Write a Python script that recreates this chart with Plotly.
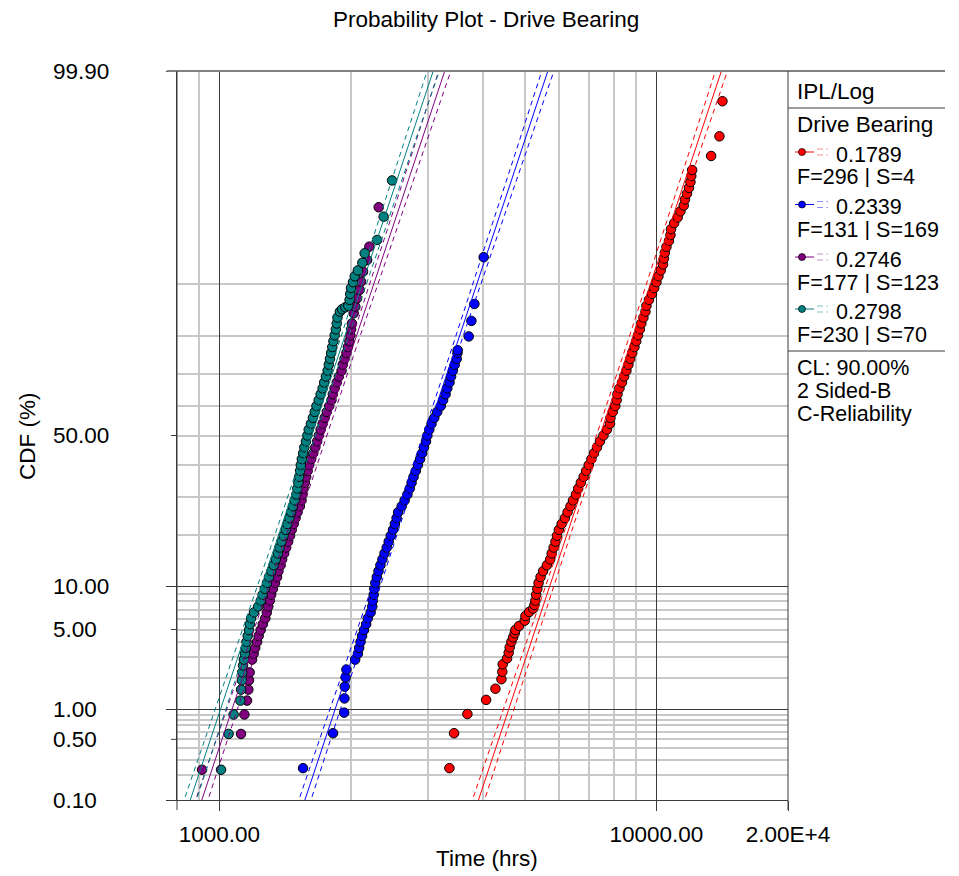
import math
import plotly.graph_objects as go
from statistics import NormalDist

ND = NormalDist()


def z(p):
    return ND.inv_cdf(p / 100.0)


# ---------------- data ----------------
stress = ["0.1789", "0.2339", "0.2746", "0.2798"]
fails = [296, 131, 177, 230]
susp = [4, 169, 123, 70]
colors = ["#FF0000", "#0000FF", "#800080", "#008080"]
light_colors = ["#FF8C8C", "#8C8CFF", "#C88CC8", "#7FC4C4"]

red_time = [3360, 3443, 3694, 4077, 4282, 4420, 4440, 4450, 4554, 4592, 4617, 4658, 4700, 4740, 4757,
            4851, 4996, 5015, 5114, 5223, 5259,
            5285, 5307, 5340, 5374, 5431, 5504, 5614, 5713, 5758, 5819, 5875, 5921, 5981, 6070, 6176,
            6262, 6358, 6442, 6544, 6623, 6714, 6815, 6905, 7000, 7100, 7198, 7313, 7426, 7565, 7706,
            7829, 7850, 7945, 8050, 8110, 8145, 8231, 8340, 8437, 8538, 8628, 8710, 8803, 8906, 8990,
            9076, 9163, 9236, 9338, 9437, 9487, 9613, 9766, 9885, 10000, 10106, 10229, 10354, 10403,
            10453, 10541, 10681, 10767, 10799, 10978, 11187, 11347, 11547, 11621, 11745, 11870, 11963,
            12014, 12071, 13340, 13937, 14159]
red_cdf = [0.24, 0.58, 0.91, 1.25, 1.59, 1.94, 2.26, 2.62, 2.94, 3.28, 3.63, 4.02, 4.35, 4.68, 4.96,
           5.32, 5.82, 6.30, 6.73, 7.11, 7.54,
           8.08, 8.85, 9.68, 10.57, 11.51, 12.51, 13.57, 14.69, 15.87, 17.11, 18.41, 19.77, 21.19, 22.66,
           24.20, 25.79, 27.43, 29.12, 30.85, 32.64, 34.46, 36.32, 38.21, 40.13, 42.07, 44.04, 46.02,
           48.01, 50.00, 51.99, 53.98, 55.96, 57.93, 59.87, 61.79, 63.68, 65.54, 67.36, 69.15, 70.88,
           72.58, 74.22, 75.80, 77.34, 78.81, 80.23, 81.59, 82.89, 84.13, 85.31, 86.43, 87.49, 88.49,
           89.44, 90.32, 91.15, 91.92, 92.65, 93.32, 93.94, 94.52, 95.05, 95.54, 95.99, 96.41, 96.78,
           97.13, 97.44, 97.73, 97.98, 98.21, 98.42, 98.61, 98.78, 99.11, 99.44, 99.77]

blue_time = [1554, 1820, 1930, 1933, 1936, 1945, 1953,
             2045, 2075, 2089, 2104, 2121, 2142, 2167, 2186, 2219, 2238, 2244, 2255, 2262, 2274, 2292,
             2313, 2336, 2361, 2387, 2415, 2440, 2467, 2496, 2521, 2544, 2565, 2613, 2654, 2693, 2726,
             2753, 2782, 2815, 2846, 2879, 2911, 2939, 2970, 2992, 3022, 3058, 3103, 3151, 3211, 3250,
             3293, 3323, 3362, 3390, 3421, 3455, 3492, 3506, 3510, 3720, 3773, 3833, 4025]
blue_cdf = [0.24, 0.58, 0.94, 1.29, 1.66, 2.01, 2.36,
            2.87, 3.22, 3.59, 4.01, 4.46, 4.95, 5.48, 6.06, 6.68, 7.35, 8.08, 8.85, 9.68, 10.57, 11.51,
            12.51, 13.57, 14.69, 15.87, 17.11, 18.41, 19.77, 21.19, 22.66, 24.20, 25.79, 27.43, 29.12,
            30.85, 32.64, 34.46, 36.32, 38.21, 40.13, 42.07, 44.04, 46.02, 48.01, 50.00, 51.99, 53.98,
            55.96, 57.93, 59.87, 61.79, 63.68, 65.54, 67.36, 69.15, 70.88, 72.58, 74.22, 75.80, 76.52,
            79.95, 83.44, 86.76, 93.47]

purple_time = [913, 1121, 1141, 1157, 1165, 1169, 1173,
               1188, 1198, 1208, 1220, 1230, 1243, 1257, 1274, 1284, 1294, 1304, 1314, 1326, 1341, 1355,
               1365, 1381, 1392, 1407, 1422, 1437, 1451, 1464, 1479, 1494, 1510, 1528, 1542, 1549, 1559,
               1569, 1580, 1592, 1605, 1622, 1640, 1658, 1674, 1689, 1705, 1723, 1742, 1761, 1784, 1805,
               1818, 1835, 1856, 1877, 1904, 1916, 1934, 1953, 1968, 1984, 1994, 2002, 2010,
               2029, 2047, 2066, 2094, 2110, 2132, 2178, 2204, 2315]
purple_cdf = [0.23, 0.57, 0.90, 1.23, 1.56, 1.90, 2.23,
              2.87, 3.22, 3.59, 4.01, 4.46, 4.95, 5.48, 6.06, 6.68, 7.35, 8.08, 8.85, 9.68, 10.57, 11.51,
              12.51, 13.57, 14.69, 15.87, 17.11, 18.41, 19.77, 21.19, 22.66, 24.20, 25.79, 27.43, 29.12,
              30.85, 32.64, 34.46, 36.32, 38.21, 40.13, 42.07, 44.04, 46.02, 48.01, 50.00, 51.99, 53.98,
              55.96, 57.93, 59.87, 61.79, 63.68, 65.54, 67.36, 69.15, 70.88, 72.58, 74.22, 75.80, 77.34,
              78.81, 80.23, 81.59, 82.89,
              84.99, 86.26, 87.76, 89.14, 90.39, 91.76, 93.16, 94.53, 97.35]

teal_time = [1009, 1050, 1078, 1117, 1121, 1126, 1128, 1133,
             1138, 1144, 1149, 1154, 1161, 1169, 1174, 1182, 1200, 1227, 1244, 1256, 1270, 1285, 1299,
             1315, 1331, 1346, 1361, 1373, 1387, 1402, 1418, 1431, 1446, 1460, 1473, 1487, 1500, 1508,
             1516, 1523, 1530, 1536, 1544, 1555, 1565, 1578, 1590, 1601, 1620, 1637, 1653, 1668, 1688,
             1705, 1723, 1737, 1753, 1769, 1780, 1791, 1802, 1813, 1824, 1836, 1847, 1856, 1863, 1887,
             1909, 1942, 1973, 1986, 1993, 2001, 2022, 2041, 2074, 2124, 2150, 2296, 2376, 2484]
teal_cdf = [0.23, 0.57, 0.90, 1.23, 1.56, 1.90, 2.23, 2.56,
            2.87, 3.22, 3.59, 4.01, 4.46, 4.95, 5.48, 6.06, 6.68, 7.35, 8.08, 8.85, 9.68, 10.57, 11.51,
            12.51, 13.57, 14.69, 15.87, 17.11, 18.41, 19.77, 21.19, 22.66, 24.20, 25.79, 27.43, 29.12,
            30.85, 32.64, 34.46, 36.32, 38.21, 40.13, 42.07, 44.04, 46.02, 48.01, 50.00, 51.99, 53.98,
            55.96, 57.93, 59.87, 61.79, 63.68, 65.54, 67.36, 69.15, 70.88, 72.58, 74.22, 75.80, 77.34,
            78.81, 80.23, 81.59, 82.89, 84.13, 85.31, 85.78, 86.15, 86.43, 87.49, 88.49, 89.44, 90.32,
            91.15, 91.92, 92.85, 93.88, 95.13, 96.82, 98.47]

# fitted IPL-lognormal lines: median life per stress level, shared log-std
median_life = [7426, 2976, 1729, 1627]
sigma_ln = 0.2071
sd_mu = [0.0106, 0.0106, 0.0110, 0.0110]
sd_sigma = 0.0052
K90 = 1.645  # 90% two-sided

x_major = [1000, 10000, 20000]
x_major_text = ["1000.00", "10000.00", "2.00E+4"]
x_minor = [900, 2000, 3000, 4000, 5000, 6000, 7000, 8000, 9000]
y_major = [0.1, 1, 10, 99.9]
y_minor = [0.2, 0.3, 0.4, 0.5, 0.6, 0.7, 0.8, 0.9, 2, 3, 4, 5, 6, 7, 8, 9,
           20, 30, 40, 50, 60, 70, 80, 90]
y_labels = [99.9, 50, 10, 5, 1, 0.5, 0.1]
y_short_ticks = [0.5, 5, 50]

series = [(red_time, red_cdf), (blue_time, blue_cdf), (purple_time, purple_cdf), (teal_time, teal_cdf)]

# ---------------- geometry ----------------
W, H = 959, 876
ML, MR, MT, MB = 177, 171, 71, 76
PW = W - ML - MR
PH = H - MT - MB


def px(xp):
    return (xp - ML) / PW


def py(yp):
    return (H - MB - yp) / PH


FONT = "Liberation Sans, Arial, sans-serif"
FS = 22.5
LFS = 21.5

fig = go.Figure()

# data points
for (tt, cc), col in zip(series, colors):
    fig.add_trace(go.Scatter(x=tt, y=[z(c) for c in cc], mode="markers",
                             marker=dict(size=9.5, color=col, line=dict(color="black", width=1)),
                             hoverinfo="x+y", showlegend=False))

# fitted lines and confidence bounds
zz = [z(0.04) + i * (z(99.96) - z(0.04)) / 80 for i in range(81)]
for i, col in enumerate(colors):
    mu = math.log(median_life[i])
    xs = [math.exp(mu + sigma_ln * q) for q in zz]
    half = [K90 * math.sqrt(sd_mu[i] ** 2 + (q * sd_sigma) ** 2) for q in zz]
    lo = [math.exp(mu + sigma_ln * q - h) for q, h in zip(zz, half)]
    hi = [math.exp(mu + sigma_ln * q + h) for q, h in zip(zz, half)]
    fig.add_trace(go.Scatter(x=xs, y=zz, mode="lines", line=dict(color=col, width=1),
                             hoverinfo="skip", showlegend=False))
    for b in (lo, hi):
        fig.add_trace(go.Scatter(x=b, y=zz, mode="lines",
                                 line=dict(color=col, width=1, dash="5px,4px"),
                                 hoverinfo="skip", showlegend=False))

DARK = "#3a3a3a"
GRID = "#c8c8c8"

fig.update_xaxes(type="log", range=[math.log10(800), math.log10(20000)],
                 tickmode="array", tickvals=x_major, ticktext=x_major_text,
                 ticks="outside", ticklen=10, tickwidth=1, tickcolor=DARK,
                 ticklabelstandoff=4,
                 showgrid=True, gridcolor=DARK, gridwidth=1,
                 minor=dict(tickmode="array", tickvals=x_minor, showgrid=True,
                            gridcolor=GRID, gridwidth=1.5, ticks=""),
                 showline=True, linecolor=DARK, linewidth=1, zeroline=False,
                 tickfont=dict(family=FONT, size=FS, color="black"))

fig.update_yaxes(range=[z(0.1), z(99.9)], tickmode="array",
                 tickvals=[z(v) for v in y_major], ticktext=[""] * len(y_major),
                 ticks="outside", ticklen=10, tickwidth=1, tickcolor=DARK,
                 showgrid=True, gridcolor=DARK, gridwidth=1,
                 minor=dict(tickmode="array", tickvals=[z(v) for v in y_minor], showgrid=True,
                            gridcolor=GRID, gridwidth=1.5, ticks=""),
                 showline=True, linecolor=DARK, linewidth=1, zeroline=False,
                 showticklabels=False)

shapes = []
# frame pieces and legend panel
shapes.append(dict(type="line", xref="paper", yref="paper", x0=px(167), x1=px(945), y0=1, y1=1,
                   line=dict(color="#808080", width=2)))
shapes.append(dict(type="line", xref="paper", yref="paper", x0=1, x1=1, y0=py(810), y1=1,
                   line=dict(color=DARK, width=1)))
shapes.append(dict(type="line", xref="paper", yref="paper", x0=0, x1=0, y0=py(810), y1=1,
                   line=dict(color=DARK, width=1)))
shapes.append(dict(type="line", xref="paper", yref="paper", x0=1, x1=px(945), y0=py(108), y1=py(108),
                   line=dict(color=DARK, width=1)))
shapes.append(dict(type="line", xref="paper", yref="paper", x0=1, x1=px(945), y0=py(351), y1=py(351),
                   line=dict(color=DARK, width=1)))
for v in y_short_ticks:
    shapes.append(dict(type="line", xref="paper", yref="y", x0=px(171), x1=0, y0=z(v), y1=z(v),
                       line=dict(color=DARK, width=1)))

annotations = []
for v in y_labels:
    annotations.append(dict(xref="paper", yref="y", x=px(51), y=z(v), xanchor="left", yanchor="middle",
                            text=f"{v:.2f}", showarrow=False,
                            font=dict(family=FONT, size=FS, color="black")))
annotations.append(dict(xref="paper", yref="paper", x=px(486), y=py(19), xanchor="center",
                        yanchor="middle", text="Probability Plot - Drive Bearing", showarrow=False,
                        font=dict(family=FONT, size=FS, color="black")))
annotations.append(dict(xref="paper", yref="paper", x=px(487), y=py(858), xanchor="center",
                        yanchor="middle", text="Time (hrs)", showarrow=False,
                        font=dict(family=FONT, size=FS, color="black")))
annotations.append(dict(xref="paper", yref="paper", x=px(28), y=py(437), xanchor="center",
                        yanchor="middle", text="CDF (%)", textangle=-90, showarrow=False,
                        font=dict(family=FONT, size=FS, color="black")))

# legend panel texts
def panel_text(txt, xp, yp, size=LFS, box=None):
    a = dict(xref="paper", yref="paper", x=px(xp), y=py(yp), xanchor="left",
             yanchor="middle", text=txt, showarrow=False, borderpad=0,
             font=dict(family=FONT, size=size, color="black"))
    if box:
        a["height"] = box
    annotations.append(a)


panel_text("IPL/Log", 796, 91, FS)
panel_text("Drive Bearing", 796, 124, FS)
entry_y = [155, 207.5, 260, 312]
for i in range(4):
    yc = entry_y[i]
    panel_text(stress[i], 835, yc, LFS, 20)
    panel_text(f"F={fails[i]} | S={susp[i]}", 796, yc + 22.5, LFS, 20)
    ym = yc - 3
    shapes.append(dict(type="line", xref="paper", yref="paper", x0=px(795), x1=px(814), y0=py(ym), y1=py(ym),
                       line=dict(color=colors[i], width=1)))
    shapes.append(dict(type="circle", xref="paper", yref="paper", x0=px(798.5), x1=px(805.5),
                       y0=py(ym + 3.5), y1=py(ym - 3.5), fillcolor=colors[i],
                       line=dict(color="black", width=0.7)))
    for dy in (-3, 3):
        shapes.append(dict(type="line", xref="paper", yref="paper", x0=px(817), x1=px(823),
                           y0=py(ym + dy), y1=py(ym + dy), line=dict(color=light_colors[i], width=1)))
        shapes.append(dict(type="line", xref="paper", yref="paper", x0=px(826.5), x1=px(828),
                           y0=py(ym + dy), y1=py(ym + dy), line=dict(color=light_colors[i], width=1)))
panel_text("CL: 90.00%", 796, 368, LFS)
panel_text("2 Sided-B", 796, 391, LFS)
panel_text("C-Reliability", 796, 414, LFS)

fig.update_layout(width=W, height=H, margin=dict(l=ML, r=MR, t=MT, b=MB, pad=0),
                  paper_bgcolor="white", plot_bgcolor="white", showlegend=False,
                  font=dict(family=FONT, size=FS, color="black"),
                  shapes=shapes, annotations=annotations)

fig.write_html("out.html")
